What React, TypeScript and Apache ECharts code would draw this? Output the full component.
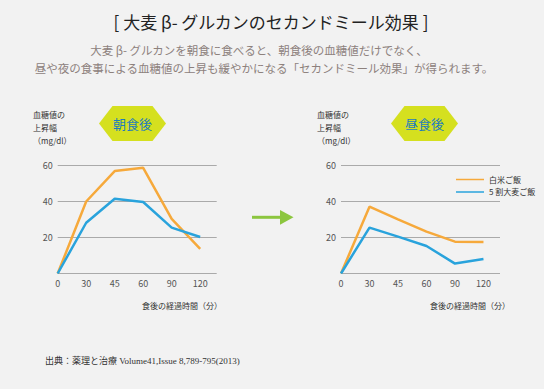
import React, { useEffect, useRef } from 'react';
import * as echarts from 'echarts';

// ---- data ----
const timeLabels = ['0', '30', '45', '60', '90', '120'];
const seriesNames = ['白米ご飯', '5 割大麦ご飯'];
const breakfastWhite = [0, 40, 56.9, 58.7, 30.3, 13.7];
const breakfastBarley = [0, 28.2, 41.5, 39.7, 25.5, 20.3];
const lunchWhite = [0, 37.1, 30.1, 23.3, 17.7, 17.5];
const lunchBarley = [0, 25.5, 20.5, 15.3, 5.5, 8.1];
const yMax = 60;
const yStep = 20;

const titleText = '[ 大麦 β- グルカンのセカンドミール効果 ]';
const subLine1 = '大麦 β- グルカンを朝食に食べると、朝食後の血糖値だけでなく、';
const subLine2 = '昼や夜の食事による血糖値の上昇も緩やかになる「セカンドミール効果」が得られます。';
const panelTitles = ['朝食後', '昼食後'];
const yNameLines = ['血糖値の', '上昇幅', '（mg/dl）'];
const xName = '食後の経過時間（分）';
const sourceText = '出典：薬理と治療 Volume41,Issue 8,789-795(2013)';

const ORANGE = '#f6a93b';
const BLUE = '#29a3dc';
const JP = '"Noto Sans CJK JP", "Noto Sans", sans-serif';

const toPts = (arr: number[]) => arr.map((v, i) => [i, v]);

export default function App() {
  const ref = useRef<HTMLDivElement>(null);
  useEffect(() => {
    document.body.style.margin = '0';
    const chart = echarts.init(ref.current!, undefined, { renderer: 'svg' });
    const grids = [
      { left: 57.7, top: 165.5, width: 159, height: 108 },
      { left: 341, top: 165.5, width: 159, height: 108 },
    ];
    const xAxis = grids.map((_, gi) => ({
      type: 'value' as const,
      gridIndex: gi,
      min: 0,
      max: 5.58,
      interval: 1,
      axisLine: { show: false },
      axisTick: { show: false },
      splitLine: { show: false },
      axisLabel: {
        formatter: (v: number) => (Number.isInteger(v) && timeLabels[v] !== undefined ? timeLabels[v] : ''),
        color: '#555',
        fontSize: 9,
        fontFamily: JP,
        margin: 5,
      },
    }));
    const yAxis = grids.map((_, gi) => ({
      type: 'value' as const,
      gridIndex: gi,
      min: 0,
      max: yMax,
      interval: yStep,
      axisLine: { show: false },
      axisTick: { show: false },
      splitLine: { lineStyle: { color: '#aaaaaa', width: 1 } },
      axisLabel: {
        formatter: (v: number) => (v === 0 ? '' : String(v)),
        color: '#555',
        fontSize: 9,
        fontFamily: JP,
        margin: 5,
      },
    }));
    const mk = (name: string, data: number[], color: string, gi: number) => ({
      type: 'line' as const,
      name,
      xAxisIndex: gi,
      yAxisIndex: gi,
      data: toPts(data),
      symbol: 'none',
      lineStyle: { color, width: 2.5 },
      itemStyle: { color },
    });

    const badge = (cx: number, cy: number, label: string) => [
      {
        type: 'polygon',
        shape: {
          points: [
            [cx - 33.5, cy],
            [cx - 20, cy - 17.5],
            [cx + 20, cy - 17.5],
            [cx + 33.5, cy],
            [cx + 20, cy + 17.5],
            [cx - 20, cy + 17.5],
          ],
        },
        style: { fill: '#d5e01f' },
      },
      {
        type: 'text',
        x: cx,
        y: cy,
        style: {
          text: label,
          fill: '#1f7cbd',
          fontSize: 13,
          fontFamily: JP,
          textAlign: 'center',
          textVerticalAlign: 'middle',
        },
      },
    ];
    const yName = (x: number) =>
      yNameLines.map((t, i) => ({
        type: 'text',
        x,
        y: 114 + i * 13,
        style: { text: t, fill: '#333', fontSize: 8, fontFamily: JP, textAlign: 'left', textVerticalAlign: 'middle' },
      }));
    const xNameEl = (x: number) => ({
      type: 'text',
      x,
      y: 305,
      style: { text: xName, fill: '#333', fontSize: 8, fontFamily: JP, textAlign: 'right', textVerticalAlign: 'middle' },
    });

    chart.setOption({
      animation: false,
      backgroundColor: '#f2f2f2',
      grid: grids,
      xAxis,
      yAxis,
      legend: {
        data: seriesNames,
        orient: 'vertical',
        left: 451,
        top: 170.5,
        icon: 'rect',
        itemWidth: 28,
        itemHeight: 1.5,
        itemGap: 4.5,
        textStyle: { fontSize: 8, color: '#333', fontFamily: JP },
      },
      series: [
        mk(seriesNames[0], breakfastWhite, ORANGE, 0),
        mk(seriesNames[1], breakfastBarley, BLUE, 0),
        mk(seriesNames[0], lunchWhite, ORANGE, 1),
        mk(seriesNames[1], lunchBarley, BLUE, 1),
      ],
      graphic: [
        {
          type: 'text',
          x: 271,
          y: 21,
          style: { text: titleText, fill: '#222', fontSize: 17, fontFamily: JP, textAlign: 'center', textVerticalAlign: 'middle' },
        },
        {
          type: 'text',
          x: 259,
          y: 50,
          style: { text: subLine1, fill: '#8d817d', fontSize: 11.5, fontFamily: JP, textAlign: 'center', textVerticalAlign: 'middle' },
        },
        {
          type: 'text',
          x: 264,
          y: 68,
          style: { text: subLine2, fill: '#8d817d', fontSize: 11.5, fontFamily: JP, textAlign: 'center', textVerticalAlign: 'middle' },
        },
        ...badge(132.5, 123.5, panelTitles[0]),
        ...badge(424.5, 123.5, panelTitles[1]),
        ...yName(33),
        ...yName(317),
        xNameEl(222),
        xNameEl(510),
        {
          type: 'line',
          shape: { x1: 252, y1: 217.3, x2: 281, y2: 217.3 },
          style: { stroke: '#8cc63f', lineWidth: 3 },
        },
        {
          type: 'polygon',
          shape: { points: [[280, 210], [293.5, 217.3], [280, 224.7]] },
          style: { fill: '#8cc63f' },
        },
        {
          type: 'text',
          x: 45,
          y: 361,
          style: {
            text: sourceText,
            fill: '#333',
            fontSize: 9,
            fontFamily: '"Liberation Serif", "Noto Sans CJK JP", serif',
            textAlign: 'left',
            textVerticalAlign: 'middle',
          },
        },
      ],
    });
    return () => chart.dispose();
  }, []);
  return <div ref={ref} style={{ width: 544, height: 389 }} />;
}
